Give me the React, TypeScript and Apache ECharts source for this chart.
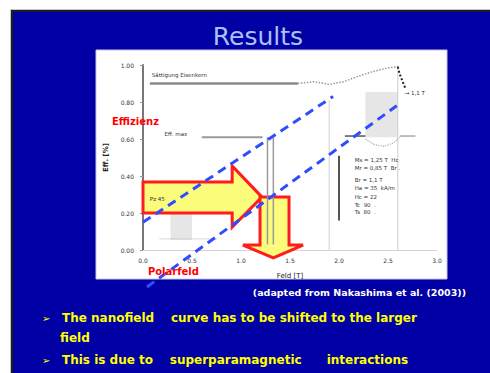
import React, { useEffect, useRef } from "react";
import * as echarts from "echarts";

// Axis ranges and tick steps
const xMin = 0;
const xMax = 3;
const xStep = 0.5;
const yMin = 0;
const yMax = 1;
const yStep = 0.2;

// Reference lines of the efficiency plot (field [T], efficiency)
const saturationLine = [[0.07, 0.9], [1.58, 0.9]];
const efficiencyLine = [[0.6, 0.61], [1.22, 0.61]];
const upperTrend = [[0, 0.15], [1.94, 0.83]];
const lowerTrend = [[0.04, -0.2], [2.59, 0.78]];
const magnetCurve = [[1.58, 0.9], [1.75, 0.91], [1.9, 0.895], [2.05, 0.91], [2.2, 0.94], [2.35, 0.965], [2.5, 0.985], [2.6, 0.99]];
const magnetDrop = [[2.6, 0.99], [2.62, 0.95], [2.65, 0.91], [2.68, 0.87]];
const fieldMarkerA = [[1.27, 0.61], [1.27, 0.03]];
const fieldMarkerB = [[1.33, 0.61], [1.33, 0.03]];
const guideLow = [[1.9, 0.81], [1.9, 0.0]];
const guideHigh = [[2.6, 1.0], [2.6, 0.0]];
const coilLine = [[2.0, 0.51], [2.0, 0.16]];
const markLeft = [[2.06, 0.616], [2.27, 0.616]];
const markRight = [[2.62, 0.616], [2.78, 0.616]];
const lowDots = [[0.17, 0.06], [0.75, 0.06]];
const arcDots = [[2.27, 0.6], [2.36, 0.57], [2.46, 0.56], [2.56, 0.58], [2.62, 0.61]];

// Shaded ranges [x0, y0, x1, y1]
const shadedRanges = [
  [0.28, 0.054, 0.5, 0.2],
  [2.27, 0.61, 2.6, 0.854],
];

// Block arrows (polygon vertices in field / efficiency units)
const rightArrow = [[0, 0.2], [0.91, 0.2], [0.91, 0.124], [1.214, 0.286], [0.91, 0.454], [0.91, 0.368], [0, 0.368]];
const downArrow = [[1.194, 0.286], [1.49, 0.286], [1.49, 0.027], [1.633, 0.027], [1.33, -0.043], [1.02, 0.027], [1.194, 0.027]];

// Text annotations [x, y, text]
const redLabels: [number, number, string][] = [
  [-0.316, 0.697, "Effizienz"],
  [0.05, -0.118, "Polarfeld"],
];
const smallNotes: [number, number, string][] = [
  [0.09, 0.946, "Sättigung Eisenkern"],
  [0.22, 0.627, "Eff. max"],
  [0.07, 0.276, "Pz 45"],
  [2.67, 0.85, "→ 1,1 T"],
  [2.16, 0.486, "Ms = 1,25 T  Hc"],
  [2.16, 0.443, "Mr = 0,85 T  Br ."],
  [2.16, 0.378, "Br = 1,1 T"],
  [2.16, 0.335, "Ha = 35  kA/m"],
  [2.16, 0.286, "Hc = 22"],
  [2.16, 0.243, "Tc  90  ."],
  [2.16, 0.205, "Ts  80  ."],
];

// Slide text
const slideTitle = "Results";
const credit = "(adapted from Nakashima et al. (2003))";
const bullets = [
  "The nanofield    curve has to be shifted to the larger",
  "field",
  "This is due to    superparamagnetic      interactions",
];

const dashed = (data: number[][], name: string) => ({
  type: "line",
  name,
  data,
  symbol: "none",
  clip: false,
  z: 6,
  lineStyle: { color: "#2f4dff", width: 3, type: [9, 6] },
});

const plain = (data: number[][], color: string, width: number, type: any = "solid", z = 4) => ({
  type: "line",
  data,
  symbol: "none",
  clip: false,
  z,
  lineStyle: { color, width, type },
});

const arrowSeries = (points: number[][]) => ({
  type: "custom",
  coordinateSystem: "cartesian2d",
  clip: false,
  z: 5,
  data: [[points[0][0], points[0][1]]],
  renderItem: (_p: any, api: any) => ({
    type: "polygon",
    shape: { points: points.map((p) => api.coord(p)) },
    style: { fill: "#fbfb7c", stroke: "#ff1c1c", lineWidth: 3, lineJoin: "miter" },
  }),
});

const textSeries = (items: [number, number, string][], style: any) => ({
  type: "custom",
  coordinateSystem: "cartesian2d",
  clip: false,
  z: 7,
  data: items.map((d) => [d[0], d[1]]),
  renderItem: (params: any, api: any) => {
    const pt = api.coord([api.value(0), api.value(1)]);
    return {
      type: "text",
      x: pt[0],
      y: pt[1],
      style: { text: items[params.dataIndex][2], textVerticalAlign: "middle", ...style },
    };
  },
});

export default function App() {
  const ref = useRef<HTMLDivElement>(null);

  useEffect(() => {
    document.body.style.margin = "0";
    const chart = echarts.init(ref.current!, undefined, { renderer: "svg" });
    const font = "'DejaVu Sans', sans-serif";
    const bulletFont = `bold 12px ${font}`;
    chart.setOption({
      animation: false,
      backgroundColor: "#ffffff",
      grid: { left: 143, right: 53, top: 65, bottom: 123 },
      xAxis: {
        type: "value",
        min: xMin,
        max: xMax,
        interval: xStep,
        name: "Feld [T]",
        nameLocation: "middle",
        nameGap: 22,
        nameTextStyle: { fontSize: 7, color: "#222", fontFamily: font },
        axisLine: { lineStyle: { color: "#d4d4d4", width: 1 } },
        axisTick: { show: false },
        splitLine: { show: false },
        axisLabel: { fontSize: 6, color: "#333", margin: 7, fontFamily: font, formatter: (v: number) => v.toFixed(1) },
      },
      yAxis: {
        type: "value",
        min: yMin,
        max: yMax,
        interval: yStep,
        name: "Eff. [%]",
        nameLocation: "middle",
        nameRotate: 90,
        nameGap: 33,
        nameTextStyle: { fontSize: 7, fontWeight: "bold", color: "#222", fontFamily: font },
        axisLine: { show: true, lineStyle: { color: "#777", width: 2 } },
        axisTick: { show: true, length: 3, lineStyle: { color: "#999" } },
        splitLine: { show: false },
        axisLabel: { fontSize: 6, color: "#333", margin: 9, fontFamily: font, formatter: (v: number) => v.toFixed(2) },
      },
      graphic: [
        { type: "rect", z: -20, silent: true, shape: { x: 10, y: 9, width: 490, height: 373 }, style: { fill: "#c4c4c4" } },
        { type: "rect", z: -19, silent: true, shape: { x: 12, y: 11, width: 490, height: 373 }, style: { fill: "#0000a4", stroke: "#1c1c1c", lineWidth: 2 } },
        { type: "rect", z: -18, silent: true, shape: { x: 96, y: 50, width: 351, height: 229 }, style: { fill: "#ffffff", stroke: "#c6c6ee", lineWidth: 1 } },
        { type: "text", z: 10, x: 258, y: 36, style: { text: slideTitle, fill: "#a9c1f5", font: `25px ${font}`, textAlign: "center", textVerticalAlign: "middle" } },
        { type: "text", z: 10, x: 466, y: 292, style: { text: credit, fill: "#ffffff", font: `bold 9.5px ${font}`, textAlign: "right", textVerticalAlign: "middle" } },
        { type: "text", z: 10, x: 42, y: 318, style: { text: "➢", fill: "#ffff00", font: `10px ${font}`, textVerticalAlign: "middle" } },
        { type: "text", z: 10, x: 62, y: 318, style: { text: bullets[0], fill: "#ffff00", font: bulletFont, textVerticalAlign: "middle" } },
        { type: "text", z: 10, x: 60, y: 338, style: { text: bullets[1], fill: "#ffff00", font: bulletFont, textVerticalAlign: "middle" } },
        { type: "text", z: 10, x: 42, y: 360, style: { text: "➢", fill: "#ffff00", font: `10px ${font}`, textVerticalAlign: "middle" } },
        { type: "text", z: 10, x: 62, y: 360, style: { text: bullets[2], fill: "#ffff00", font: bulletFont, textVerticalAlign: "middle" } },
      ],
      series: [
        {
          ...plain(guideLow, "#d0d0d0", 1, "solid", 2),
          markArea: {
            silent: true,
            itemStyle: { color: "#e6e6e6" },
            data: shadedRanges.map((r) => [{ coord: [r[0], r[1]] }, { coord: [r[2], r[3]] }]),
          },
        },
        plain(guideHigh, "#cccccc", 1, "solid", 2),
        plain(saturationLine, "#8a8a8a", 2.5),
        plain(efficiencyLine, "#9a9a9a", 2),
        plain(magnetCurve, "#9a9a9a", 1.5, "dotted"),
        plain(magnetDrop, "#222222", 2, "dotted"),
        plain(lowDots, "#b0b0b0", 1, "dotted"),
        plain(arcDots, "#aaaaaa", 1.2, "dotted"),
        plain(markLeft, "#555555", 1.5),
        plain(markRight, "#aaaaaa", 1.5),
        arrowSeries(rightArrow),
        arrowSeries(downArrow),
        plain(fieldMarkerA, "#9a9a9a", 1.5, "solid", 6),
        plain(fieldMarkerB, "#9a9a9a", 1.5, "solid", 6),
        plain(coilLine, "#555555", 2, "solid", 6),
        dashed(upperTrend, "upper"),
        dashed(lowerTrend, "lower"),
        textSeries(redLabels, { fill: "#ff0000", font: `bold 10px ${font}` }),
        textSeries(smallNotes, { fill: "#333333", font: `5.5px ${font}` }),
      ],
    });
    return () => chart.dispose();
  }, []);

  return <div ref={ref} style={{ width: 490, height: 373 }} />;
}
